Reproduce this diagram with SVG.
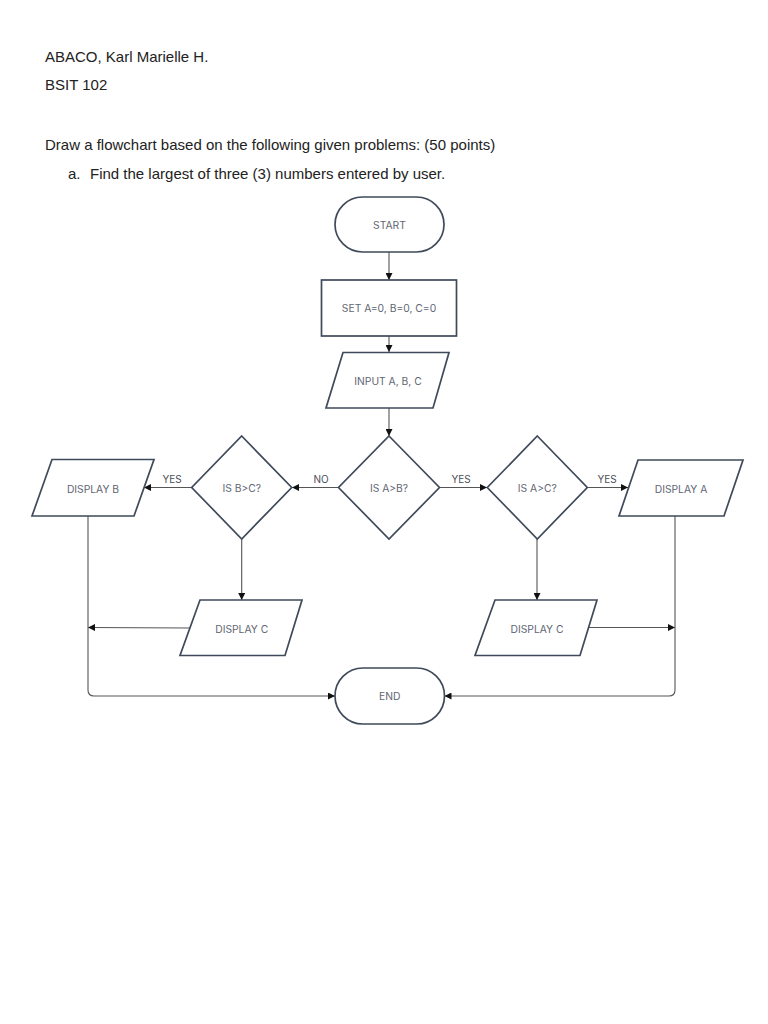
<svg xmlns="http://www.w3.org/2000/svg" width="768" height="1024" viewBox="0 0 768 1024">
<defs>
<style>
.hdr{font-family:"Liberation Sans",Arial,sans-serif;font-size:15px;fill:#222}
.shape{fill:#fff;stroke:#3f4a5a;stroke-width:1.7}
.lbl{font-family:"Inter","Open Sans",sans-serif;font-size:10.3px;fill:#5f6673;text-anchor:middle;dominant-baseline:central}
.edge{fill:none;stroke:#555;stroke-width:1.1}
.elbl{font-family:"Inter","Open Sans",sans-serif;font-size:10px;fill:#4a4f57;text-anchor:middle}
</style>
<marker id="ah" viewBox="0 0 10 10" refX="10" refY="5" markerWidth="7" markerHeight="7" markerUnits="userSpaceOnUse" orient="auto">
<path d="M0,0 L10,5 L0,10 z" fill="#111"/>
</marker>
</defs>
<rect width="768" height="1024" fill="#fff"/>
<text class="hdr" x="45" y="62">ABACO, Karl Marielle H.</text>
<text class="hdr" x="45" y="90">BSIT 102</text>
<text class="hdr" x="45" y="150">Draw a flowchart based on the following given problems: (50 points)</text>
<text class="hdr" x="68" y="179">a.</text>
<text class="hdr" x="90" y="179">Find the largest of three (3) numbers entered by user.</text>

<g id="connectors">
<line class="edge" x1="389" y1="252" x2="389" y2="280" marker-end="url(#ah)"/>
<line class="edge" x1="389" y1="336" x2="389" y2="352" marker-end="url(#ah)"/>
<line class="edge" x1="389" y1="408" x2="389" y2="436" marker-end="url(#ah)"/>
<line class="edge" x1="338.5" y1="487.5" x2="292" y2="487.5" marker-end="url(#ah)"/>
<text class="elbl" x="321" y="483">NO</text>
<line class="edge" x1="191.5" y1="487.5" x2="144" y2="487.5" marker-end="url(#ah)"/>
<text class="elbl" x="172" y="483">YES</text>
<line class="edge" x1="439.5" y1="487.5" x2="487" y2="487.5" marker-end="url(#ah)"/>
<text class="elbl" x="461" y="483">YES</text>
<line class="edge" x1="587.5" y1="487.5" x2="628" y2="487.5" marker-end="url(#ah)"/>
<text class="elbl" x="607" y="483">YES</text>
<line class="edge" x1="241.7" y1="539" x2="241.7" y2="600" marker-end="url(#ah)"/>
<line class="edge" x1="537" y1="539" x2="537" y2="600" marker-end="url(#ah)"/>
<line class="edge" x1="190" y1="628" x2="88" y2="627.5" marker-end="url(#ah)"/>
<line class="edge" x1="588" y1="627.5" x2="675" y2="627.5" marker-end="url(#ah)"/>
<path class="edge" d="M88,516 V690 Q88,696 94,696 H335" marker-end="url(#ah)"/>
<path class="edge" d="M675,516 V690 Q675,696 669,696 H444.5" marker-end="url(#ah)"/>
</g>

<g id="start">
<rect class="shape" x="335" y="197" width="109" height="55" rx="27.5"/>
<text class="lbl" x="389.5" y="224.5">START</text>
</g>
<g id="set">
<rect class="shape" x="321.5" y="280" width="135" height="56"/>
<text class="lbl" x="389" y="308">SET A=0, B=0, C=0</text>
</g>
<g id="input">
<polygon class="shape" points="343,352.5 449,352.5 433,408 326,408"/>
<text class="lbl" x="388" y="380.5">INPUT A, B, C</text>
</g>
<g id="isAgtB">
<polygon class="shape" points="389,436 439.5,487.5 389,539 338.5,487.5"/>
<text class="lbl" x="389" y="488">IS A&gt;B?</text>
</g>
<g id="isBgtC">
<polygon class="shape" points="241.7,436 291.7,487.5 241.7,539 191.7,487.5"/>
<text class="lbl" x="241.7" y="488">IS B&gt;C?</text>
</g>
<g id="isAgtC">
<polygon class="shape" points="537.3,436 587.3,487.5 537.3,539 487.3,487.5"/>
<text class="lbl" x="537.3" y="488">IS A&gt;C?</text>
</g>
<g id="displayB">
<polygon class="shape" points="52,459.5 154,459.5 134,516 32,516"/>
<text class="lbl" x="93" y="488.5">DISPLAY B</text>
</g>
<g id="displayA">
<polygon class="shape" points="638,460 743,460 724,516 619,516"/>
<text class="lbl" x="681" y="488.5">DISPLAY A</text>
</g>
<g id="displayC1">
<polygon class="shape" points="200,600 302,600 285,655.5 180,655.5"/>
<text class="lbl" x="241.7" y="629">DISPLAY C</text>
</g>
<g id="displayC2">
<polygon class="shape" points="495,600 597,600 580,655.5 475,655.5"/>
<text class="lbl" x="537" y="629">DISPLAY C</text>
</g>
<g id="end">
<rect class="shape" x="335" y="668" width="109.5" height="56" rx="28"/>
<text class="lbl" x="389.7" y="696">END</text>
</g>
</svg>
